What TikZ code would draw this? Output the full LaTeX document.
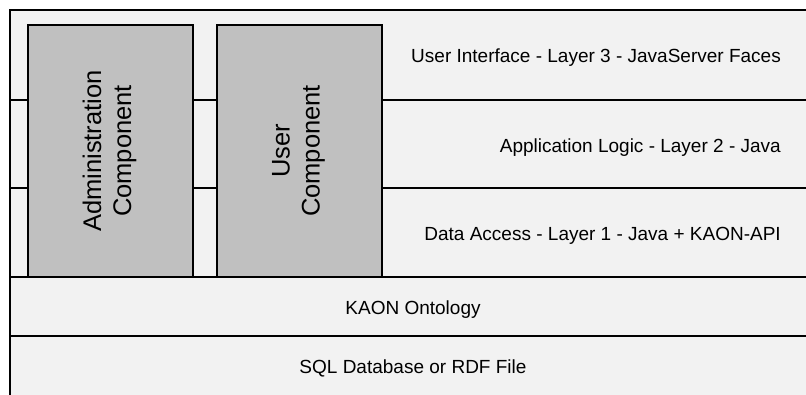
\documentclass[tikz,border=0pt]{standalone}
\usepackage{fontspec}
\setmainfont{Liberation Sans}
\definecolor{rowfill}{HTML}{F2F2F2}
\definecolor{compfill}{HTML}{C0C0C0}
\tikzset{
  row/.style={draw=black, line width=1.5pt, fill=rowfill, anchor=north west, minimum width=830, inner sep=0pt, outer sep=0pt},
  comp/.style={draw=black, line width=1.5pt, fill=compfill, inner sep=0pt, outer sep=0pt},
  comptext/.style={rotate=90, align=center, font=\fontsize{25.5}{30}\selectfont, inner sep=0pt},
  lbl/.style={font=\fontsize{19}{22}\selectfont, inner sep=0pt}
}
\begin{document}
\begin{tikzpicture}[x=1pt, y=-1pt]
\clip (0,0) rectangle (806,394);
\fill[white] (0,0) rectangle (806,394);
\node[row, minimum height=90] (l3) at (10,10) {};
\node[row, minimum height=88] (l2) at (10,100) {};
\node[row, minimum height=89] (l1) at (10,188) {};
\node[row, minimum height=59] (kaon) at (10,277) {};
\node[row, minimum height=80] (sql) at (10,336) {};
\node[comp, minimum width=165, minimum height=252] (admin) at (110.5,151) {};
\node[comp, minimum width=165, minimum height=252] (user) at (299.5,151) {};
\node[comptext] (admint) at ([xshift=-1pt]admin.center) {Administration\\Component};
\node[comptext] (usert) at ([xshift=-1pt]user.center) {User\\Component};
\node[lbl, anchor=east] (t3) at (781,57.5) {User Interface - Layer 3 - JavaServer Faces};
\node[lbl, anchor=east] (t2) at (781,147.5) {Application Logic - Layer 2 - Java};
\node[lbl, anchor=east] (t1) at (781,235.5) {Data Access - Layer 1 - Java + KAON-API};
\node[lbl] (tk) at (413,309.5) {KAON Ontology};
\node[lbl] (ts) at (413,368.5) {SQL Database or RDF File};
\end{tikzpicture}
\end{document}
